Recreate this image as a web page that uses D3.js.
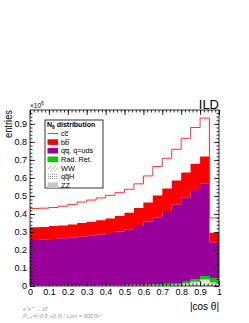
<!DOCTYPE html>
<meta charset="utf-8">
<head>
  <title>cos theta distribution</title>
</head>
<style>
body { margin: 0; background: white; }
text { font-family: "Liberation Sans", Helvetica, sans-serif; fill: black; }
.tick text { font-size: 9px; }
.axis path { display: none; }
.axis line { stroke: black; stroke-width: 0.8; }
</style>
<body>
<svg width="249" height="323">
  <defs>
    <pattern id="hatchWW" width="3" height="3" patternUnits="userSpaceOnUse" patternTransform="rotate(45)">
      <rect width="3" height="3" fill="white"></rect>
      <line x1="0" y1="0" x2="0" y2="3" stroke="#888" stroke-width="1"></line>
    </pattern>
    <pattern id="dotsH" width="2" height="2" patternUnits="userSpaceOnUse">
      <rect width="2" height="2" fill="white"></rect>
      <rect width="1" height="1" fill="#999"></rect>
    </pattern>
  </defs>
  <g id="plot"></g>
</svg>
<script src="https://cdnjs.cloudflare.com/ajax/libs/d3/7.8.5/d3.min.js"></script>
<script>
// 20 bins of |cos theta|, values in units of 10^6 entries
var binEdges = d3.range(0, 1.0001, 0.05);
var zz    = [0.001,0.001,0.001,0.001,0.001,0.001,0.001,0.001,0.001,0.001,0.001,0.001,0.001,0.001,0.001,0.001,0.001,0.001,0.001,0.001];
var qqh   = [0.001,0.001,0.001,0.001,0.001,0.001,0.001,0.001,0.001,0.001,0.001,0.001,0.001,0.001,0.001,0.001,0.001,0.001,0.001,0.001];
var ww    = [0,0,0,0,0,0,0,0.001,0.001,0.001,0.001,0.002,0.002,0.003,0.004,0.007,0.012,0.021,0.034,0.018];
var radret= [0.002,0.002,0.002,0.002,0.002,0.003,0.003,0.002,0.003,0.003,0.004,0.003,0.004,0.005,0.006,0.007,0.010,0.015,0.020,0.023];
var uds   = [0.252,0.253,0.257,0.261,0.264,0.269,0.274,0.282,0.288,0.296,0.308,0.326,0.348,0.371,0.405,0.438,0.469,0.495,0.514,0.200];
var bb    = [0.070,0.071,0.072,0.071,0.073,0.076,0.078,0.078,0.081,0.087,0.092,0.100,0.107,0.121,0.124,0.131,0.137,0.145,0.149,0.053];
var cc    = [0.104,0.104,0.103,0.107,0.112,0.116,0.120,0.124,0.128,0.129,0.130,0.134,0.148,0.161,0.168,0.174,0.190,0.202,0.213,0.082];

var legendNames = ["cc\u0305", "bb\u0305", "qq\u0305, q=uds", "Rad. Ret.", "WW", "qq\u0305H", "ZZ"];
var xTicks = d3.range(0, 1.0001, 0.1);
var yTicks = d3.range(0, 0.95, 0.1);

var mLeft = 30, mRight = 219, mTop = 110, mBottom = 286;
var x = d3.scaleLinear().domain([0, 1]).range([mLeft, mRight]);
var y = d3.scaleLinear().domain([0, 0.977]).range([mBottom, mTop]);

var rows = binEdges.slice(0, 20).map(function(e, i) {
  return {x0: e, zz: zz[i], qqh: qqh[i], ww: ww[i], radret: radret[i], uds: uds[i], bb: bb[i], cc: cc[i]};
});
// extra point so the step curves close at x = 1
rows.push(Object.assign({}, rows[19], {x0: 1}));

var keys = ["zz", "qqh", "ww", "radret", "uds", "bb"];
var fills = {zz: "#c8c8c8", qqh: "url(#dotsH)", ww: "url(#hatchWW)", radret: "#00cc00", uds: "#990099", bb: "#ff0000"};
var series = d3.stack().keys(keys)(rows);

var g = d3.select('#plot');

var area = d3.area()
  .curve(d3.curveStepAfter)
  .x(function(d) { return x(d.data.x0); })
  .y0(function(d) { return y(d[0]); })
  .y1(function(d) { return y(d[1]); });

g.selectAll('path.layer')
  .data(series)
  .enter()
  .append('path')
  .attr('class', 'layer')
  .attr('fill', function(d) { return fills[d.key]; })
  .attr('d', area);

// signal outline on top of the stack
var line = d3.line()
  .curve(d3.curveStepAfter)
  .x(function(d) { return x(d.x0); })
  .y(function(d) { return y(d.zz + d.qqh + d.ww + d.radret + d.uds + d.bb + d.cc); });

g.append('path')
  .attr('d', line(rows))
  .attr('fill', 'none')
  .attr('stroke', '#ff3333')
  .attr('stroke-width', 1);

// axes with inward ticks
var minorX = d3.range(0, 1.0001, 0.02);
var minorY = d3.range(0, 0.97, 0.02);

function addAxis(gen, tr, size, vals, fmt) {
  g.append('g').attr('class', 'axis').attr('transform', tr)
    .call(gen.tickValues(vals).tickSize(size).tickPadding(3).tickFormat(fmt));
}
var none = function() { return ''; };
addAxis(d3.axisBottom(x), 'translate(0,' + mBottom + ')', -2.5, minorX, none);
addAxis(d3.axisBottom(x), 'translate(0,' + mBottom + ')', -5, xTicks, d3.format('.1~f'));
addAxis(d3.axisTop(x), 'translate(0,' + mTop + ')', -2.5, minorX, none);
addAxis(d3.axisTop(x), 'translate(0,' + mTop + ')', -5, xTicks, none);
addAxis(d3.axisLeft(y), 'translate(' + mLeft + ',0)', -2.5, minorY, none);
addAxis(d3.axisLeft(y), 'translate(' + mLeft + ',0)', -5, yTicks, d3.format('.1~f'));
addAxis(d3.axisRight(y), 'translate(' + mRight + ',0)', -2.5, minorY, none);
addAxis(d3.axisRight(y), 'translate(' + mRight + ',0)', -5, yTicks, none);

g.append('rect')
  .attr('x', mLeft).attr('y', mTop)
  .attr('width', mRight - mLeft).attr('height', mBottom - mTop)
  .attr('fill', 'none').attr('stroke', 'black').attr('stroke-width', 0.8);

// axis titles
g.append('text').attr('transform', 'translate(12,' + mTop + ') rotate(-90)')
  .attr('text-anchor', 'end').style('font-size', '11px')
  .attr('textLength', 28).attr('lengthAdjust', 'spacingAndGlyphs').text('entries');
g.append('text').attr('x', mRight).attr('y', 310)
  .attr('text-anchor', 'end').style('font-size', '10px').text('|cos \u03b8|');
var mult = g.append('text').attr('x', 30).attr('y', 108).style('font-size', '6.5px');
mult.append('tspan').text('\u00d710');
mult.append('tspan').attr('dy', -3).style('font-size', '5px').text('6');
g.append('text').attr('x', mRight).attr('y', 109)
  .attr('text-anchor', 'end').style('font-size', '13px').text('ILD');

// legend
var lx = 45, ly = 120;
g.append('rect').attr('x', lx).attr('y', ly).attr('width', 58).attr('height', 68)
  .attr('fill', 'white').attr('stroke', 'black').attr('stroke-width', 0.8);
var lt = g.append('text').attr('x', lx + 2).attr('y', ly + 7).style('font-size', '7px').style('font-weight', 'bold');
lt.append('tspan').text('N');
lt.append('tspan').attr('dy', 1.5).style('font-size', '5px').text('\u03b8');
lt.append('tspan').attr('dy', -1.5).text(' distribution');

var legendFills = ["none", fills.bb, fills.uds, fills.radret, fills.ww, fills.qqh, fills.zz];
legendNames.forEach(function(name, i) {
  var cy = ly + 13.5 + i * 8.6;
  if (i === 0) {
    g.append('line').attr('x1', lx + 2.5).attr('x2', lx + 13).attr('y1', cy).attr('y2', cy)
      .attr('stroke', '#ff3333').attr('stroke-width', 1);
  } else {
    g.append('rect').attr('x', lx + 2.5).attr('y', cy - 2.8).attr('width', 10.5).attr('height', 5.6)
      .attr('fill', legendFills[i]);
  }
  g.append('text').attr('x', lx + 16).attr('y', cy + 2.6).style('font-size', '7.3px').text(name);
});

// bottom notes
var note = g.append('g').style('font-style', 'italic');
note.append('text').attr('x', 23).attr('y', 311).style('font-size', '5.5px').style('fill', '#999').text('e\u207be\u207a \u2192 cc\u0305');
var p = note.append('text').attr('x', 23).attr('y', 318).style('font-size', '5.5px').style('fill', '#999');
p.append('tspan').text('P');
p.append('tspan').attr('dy', 1.2).style('font-size', '4px').text('e\u207be\u207a');
p.append('tspan').attr('dy', -1.2).text('=(-0.8,+0.3) / Lum = 900 fb');
p.append('tspan').attr('dy', -2).style('font-size', '4px').text('-1');
</script>
</body>
</html>
